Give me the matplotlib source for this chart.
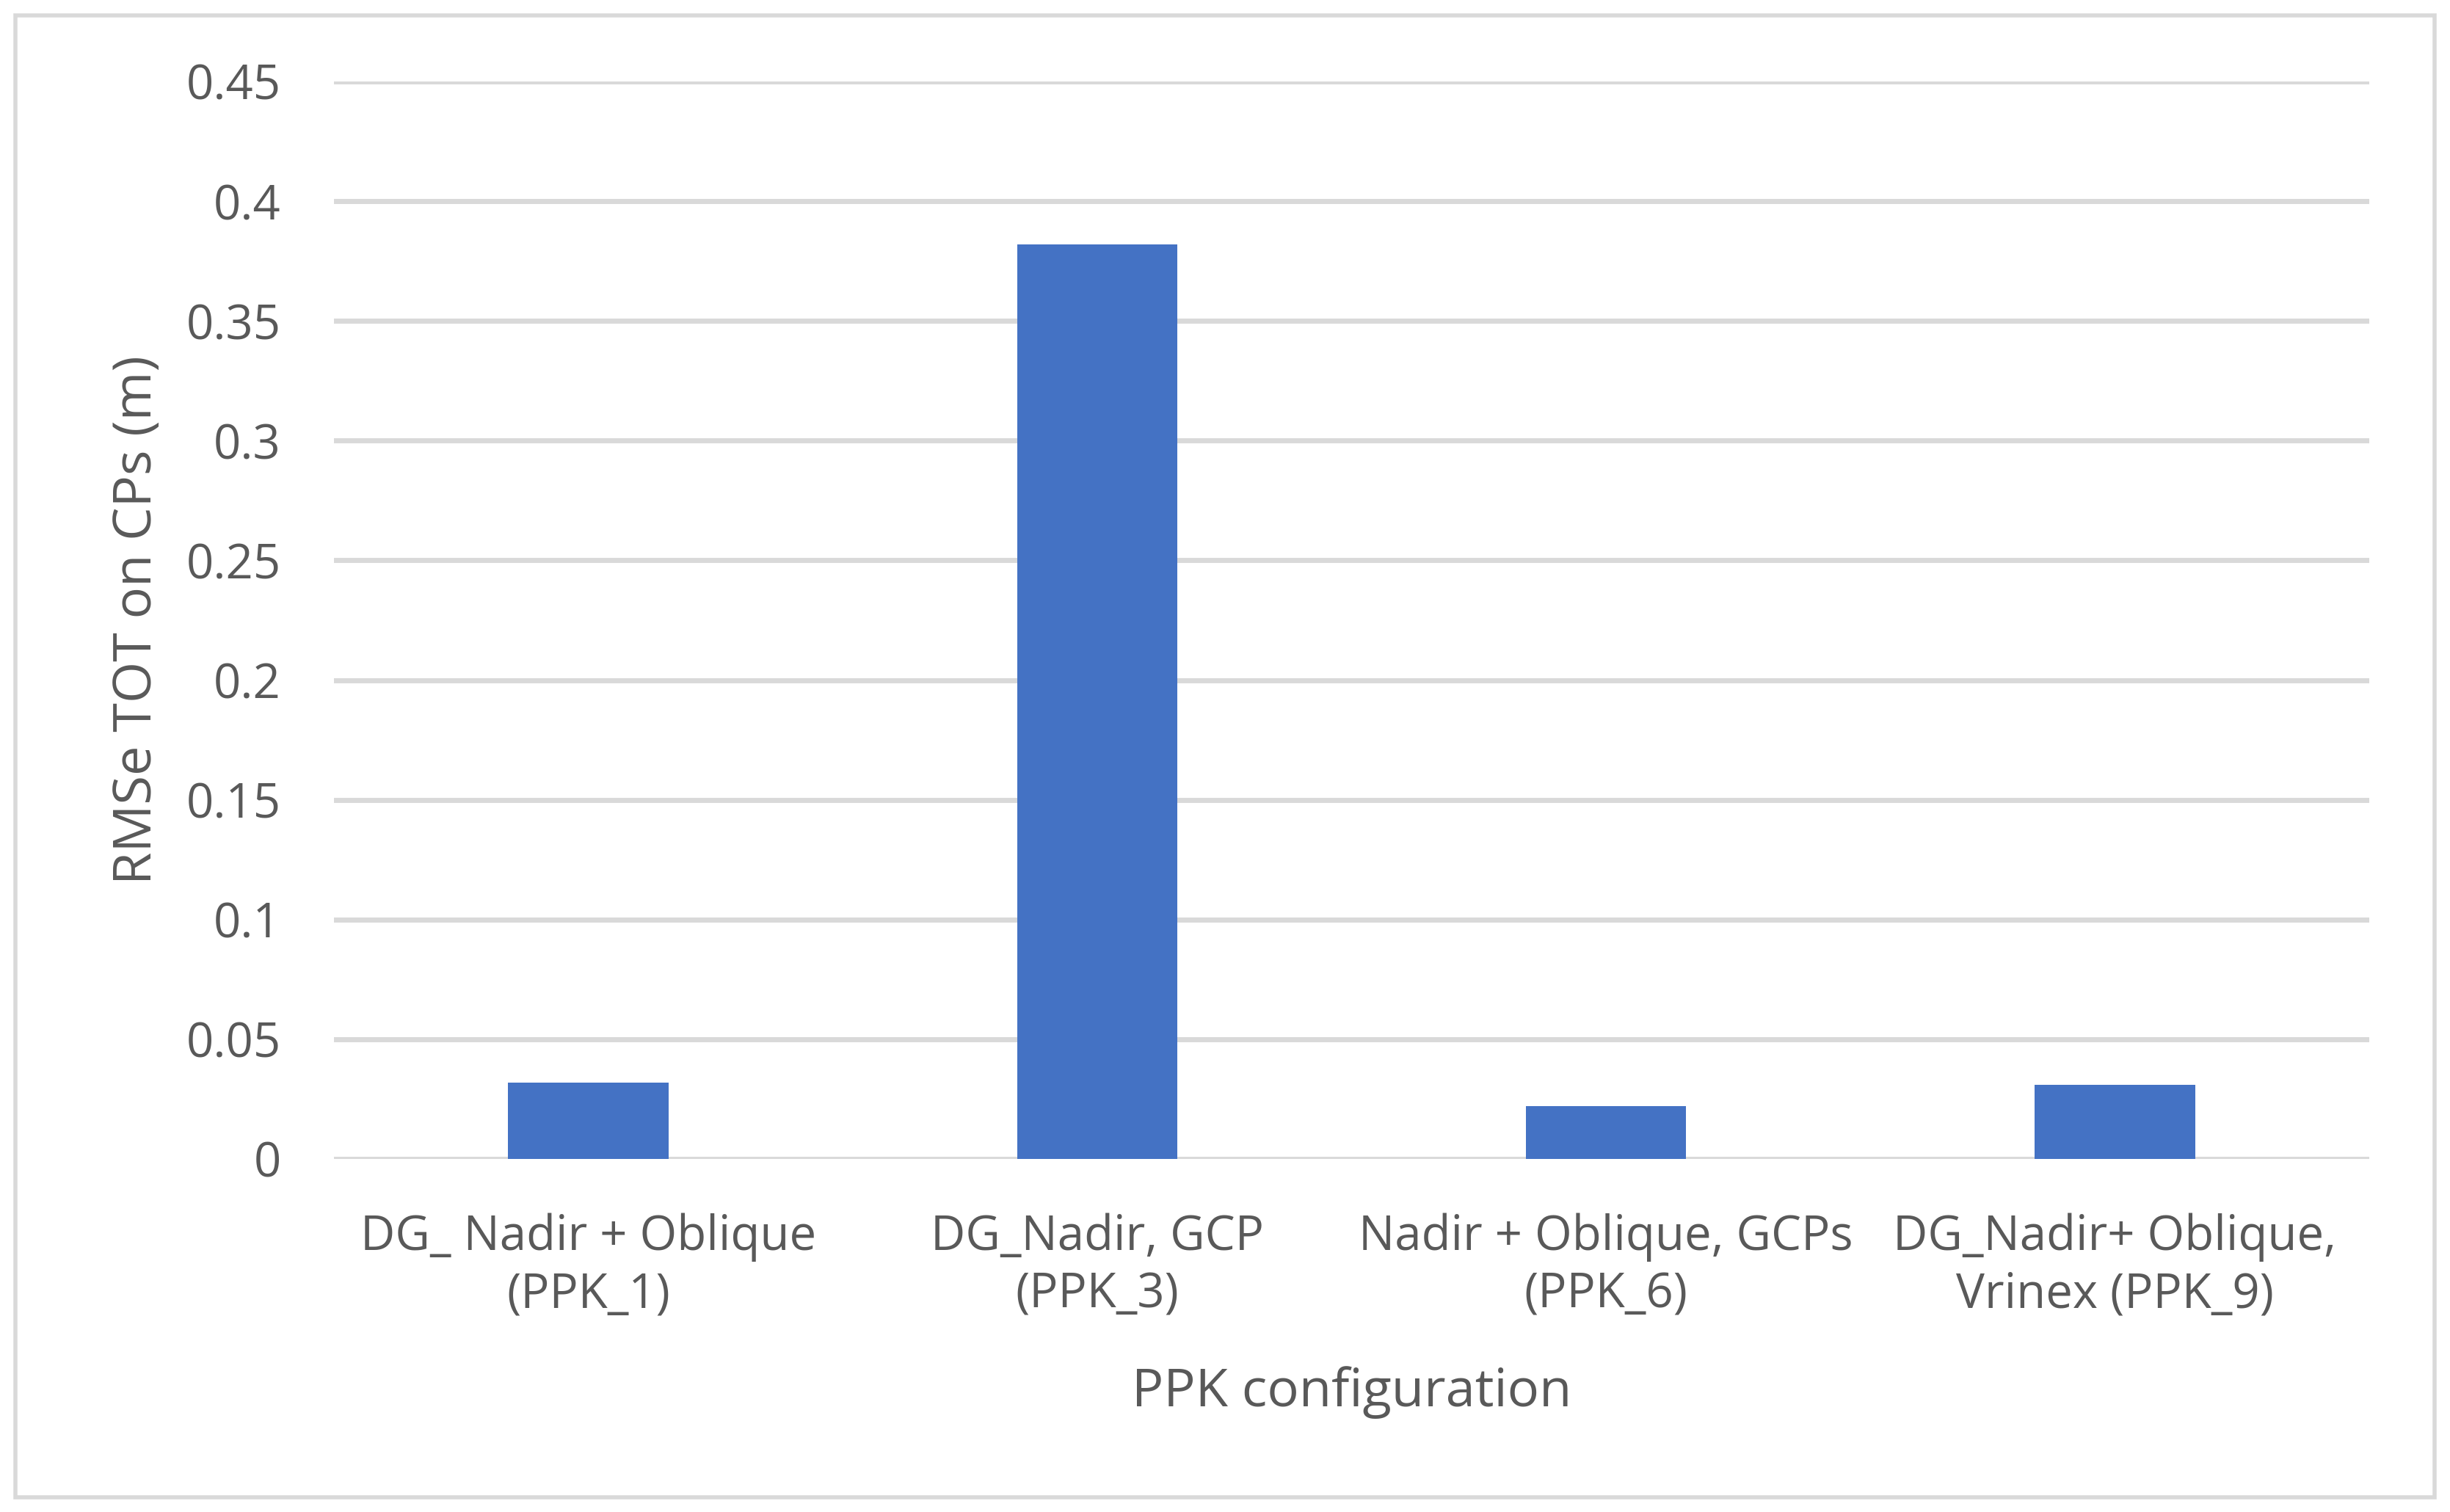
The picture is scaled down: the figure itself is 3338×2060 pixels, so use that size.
import numpy as np
import matplotlib.pyplot as plt
from matplotlib.patches import Rectangle

# Datos
categories = ['DG_ Nadir + Oblique\n(PPK_1)', 'DG_Nadir, GCP\n(PPK_3)',
              'Nadir + Oblique, GCPs\n(PPK_6)', 'DG_Nadir+ Oblique,\nVrinex (PPK_9)']
rmse_tot = [0.032, 0.382, 0.022, 0.031]
y_ticks = [0, 0.05, 0.1, 0.15, 0.2, 0.25, 0.3, 0.35, 0.4, 0.45]
y_tick_labels = ['0', '0.05', '0.1', '0.15', '0.2', '0.25', '0.3', '0.35', '0.4', '0.45']

BLUE = '#4472C4'
GRID = '#D9D9D9'
TEXT = '#595959'

plt.rcParams.update({'font.family': ['Open Sans', 'DejaVu Sans']})

fig = plt.figure(figsize=(33.38, 20.60), dpi=100)
fig.patch.set_facecolor('white')

# Marco exterior del grafico
fig.patches.append(Rectangle((21 / 3338, 1 - 2040 / 2060), (3317 - 21) / 3338, (2040 - 21) / 2060,
                             transform=fig.transFigure, fill=False, edgecolor=GRID, lw=4))

ax = fig.add_axes([455 / 3338, 1 - 1579 / 2060, (3228 - 455) / 3338, (1579 - 111) / 2060])

x = np.arange(len(categories))
ax.bar(x, rmse_tot, width=0.315, color=BLUE, zorder=3)

ax.set_xlim(-0.5, len(categories) - 0.5)
ax.set_ylim(0, 0.45)
ax.set_yticks(y_ticks)
ax.set_yticklabels(y_tick_labels)
ax.set_xticks(x)
ax.set_xticklabels(categories, linespacing=1.25)

ax.grid(axis='y', color=GRID, lw=5, zorder=0)
ax.set_axisbelow(True)
for s in ax.spines.values():
    s.set_visible(False)

ax.tick_params(axis='y', length=0, pad=52, labelsize=47, labelcolor=TEXT)
ax.tick_params(axis='x', length=0, pad=53, labelsize=47, labelcolor=TEXT)

ax.set_ylabel('RMSe TOT on CPs (m)', fontsize=52, color=TEXT, labelpad=22)
ax.set_xlabel('PPK configuration', fontsize=52, color=TEXT, labelpad=46)

fig.savefig('out.png', dpi=100, facecolor='white')
